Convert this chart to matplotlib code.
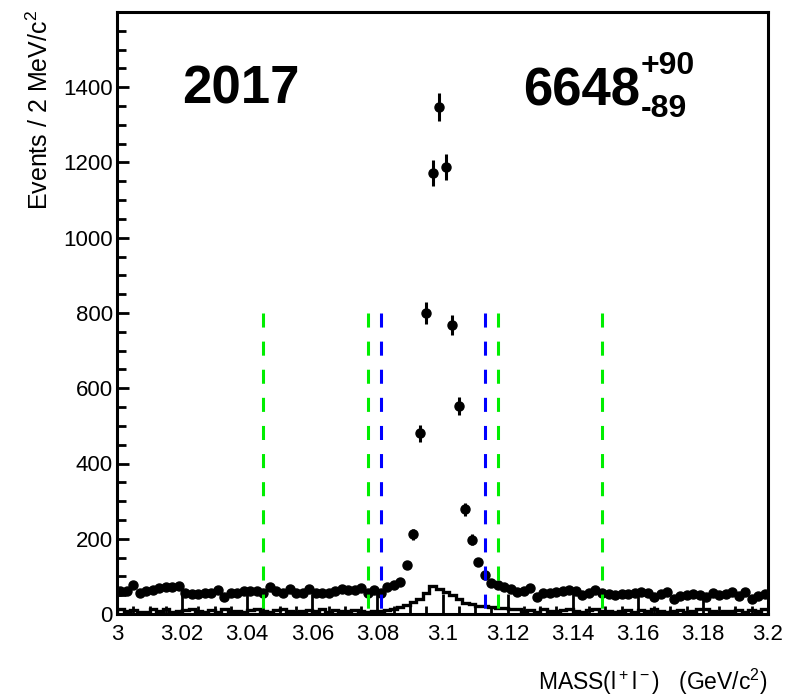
import numpy as np
import matplotlib
matplotlib.use("Agg")
import matplotlib.pyplot as plt
from matplotlib.ticker import FixedLocator, MultipleLocator

plt.rcParams["font.family"] = ["Liberation Sans", "DejaVu Sans"]
plt.rcParams["mathtext.fontset"] = "custom"
plt.rcParams["mathtext.rm"] = "Liberation Sans"
plt.rcParams["mathtext.it"] = "Liberation Sans:italic"
plt.rcParams["mathtext.bf"] = "Liberation Sans:bold"

# binning: 100 bins of 2 MeV between 3.0 and 3.2 GeV
mass_lo = 3.0
mass_hi = 3.2
n_bins = 100

# data points (events per bin)
counts = [62, 60, 77, 57, 60, 64, 68, 71, 71, 74,
          55, 53, 53, 57, 55, 64, 44, 55, 57, 60,
          62, 60, 57, 73, 62, 55, 66, 55, 57, 66,
          55, 57, 57, 62, 66, 64, 64, 68, 55, 64,
          57, 72, 77, 86, 130, 212, 480, 800, 1172, 1347,
          1188, 768, 553, 278, 198, 138, 104, 83, 77, 73,
          67, 58, 61, 68, 44, 55, 57, 59, 62, 64,
          62, 50, 57, 64, 57, 53, 50, 53, 53, 57,
          59, 57, 46, 53, 59, 41, 48, 50, 53, 50,
          46, 57, 50, 53, 59, 48, 59, 41, 48, 53]

# open histogram at the bottom
hist_vals = [12, 8, 10, 6, 5, 12, 8, 14, 6, 8,
             10, 12, 8, 6, 10, 5, 12, 9, 7, 6,
             10, 12, 8, 6, 10, 14, 7, 5, 9, 11,
             8, 12, 6, 10, 7, 9, 11, 8, 6, 9,
             8, 10, 14, 18, 24, 31, 39, 55, 74, 66,
             59, 50, 39, 30, 26, 22, 20, 19, 17, 15,
             12, 12, 8, 10, 6, 12, 9, 7, 11, 14,
             8, 6, 10, 12, 7, 9, 5, 8, 11, 6,
             10, 8, 12, 7, 6, 9, 10, 5, 8, 12,
             14, 7, 6, 9, 8, 11, 6, 10, 8, 12]

# signal window (blue) and sidebands (green)
signal_cuts = [3.081, 3.113]
sideband_cuts = [3.045, 3.077, 3.117, 3.149]
cut_height = 800

x_ticks = [3.0, 3.02, 3.04, 3.06, 3.08, 3.1, 3.12, 3.14, 3.16, 3.18, 3.2]
x_labels = ["3", "3.02", "3.04", "3.06", "3.08", "3.1", "3.12", "3.14", "3.16", "3.18", "3.2"]
y_ticks = [0, 200, 400, 600, 800, 1000, 1200, 1400]
y_labels = ["0", "200", "400", "600", "800", "1000", "1200", "1400"]

W, H = 788, 699


def fx(px):
    return px / W


def fy(py):
    return 1 - py / H


edges = np.linspace(mass_lo, mass_hi, n_bins + 1)
centers = 0.5 * (edges[:-1] + edges[1:])
counts = np.array(counts, dtype=float)
errs = np.sqrt(counts)

fig = plt.figure(figsize=(W / 100, H / 100), dpi=100)
ax = fig.add_axes([fx(117), fy(614), fx(768) - fx(117), fy(12) - fy(614)])

ax.stairs(hist_vals, edges, color="black", linewidth=2.4, zorder=2)

for x in sideband_cuts:
    ax.plot([x, x], [cut_height, 0], color="#00ee00", linewidth=2.2,
            linestyle=(0, (4.6, 4.6)), zorder=4)
for x in signal_cuts:
    ax.plot([x, x], [cut_height, 0], color="#0000ff", linewidth=2.2,
            linestyle=(0, (4.6, 4.6)), zorder=4)

ax.errorbar(centers, counts, yerr=errs, fmt="o", color="black", markersize=6.5,
            elinewidth=2.2, capsize=0, zorder=3)

ax.set_xlim(mass_lo, mass_hi)
ax.set_ylim(0, 1600)

ax.xaxis.set_major_locator(FixedLocator(x_ticks))
ax.set_xticklabels(x_labels)
ax.xaxis.set_minor_locator(MultipleLocator(0.005))
ax.yaxis.set_major_locator(FixedLocator(y_ticks))
ax.set_yticklabels(y_labels)
ax.yaxis.set_minor_locator(MultipleLocator(50))

ax.tick_params(axis="both", which="both", direction="in", top=False, right=False,
               width=2.0, labelsize=16)
ax.tick_params(axis="x", which="major", length=14.4, pad=7)
ax.tick_params(axis="x", which="minor", length=5.5)
ax.tick_params(axis="y", which="major", length=8.6, pad=3)
ax.tick_params(axis="y", which="minor", length=6.5)
for s in ax.spines.values():
    s.set_linewidth(2.2)

fig.text(fx(241), fy(104), "2017", fontsize=38, fontweight="bold",
         ha="center", va="baseline")
fig.text(fx(523), fy(105), "6648", fontsize=38, fontweight="bold",
         ha="left", va="baseline")
fig.text(fx(641), fy(74), "+90", fontsize=23, fontweight="bold",
         ha="left", va="baseline")
fig.text(fx(641), fy(117), "-89", fontsize=23, fontweight="bold",
         ha="left", va="baseline")

fig.text(fx(40), fy(110), r"Events / 2 MeV/c$\mathregular{^2}$", fontsize=18,
         rotation=90, ha="center", va="center")
fig.text(fx(768), fy(690), r"MASS(l$\mathregular{^+}$l$\mathregular{^-}$)   (GeV/c$\mathregular{^2}$)",
         fontsize=16.5, ha="right", va="baseline")

fig.savefig("out.png", dpi=100)
